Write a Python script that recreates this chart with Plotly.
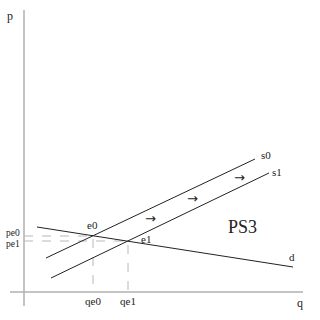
import plotly.graph_objects as go

# Curves in (q, p) coordinates
s0_q = [22, 231]
s0_p = [34, 133]
s1_q = [27, 245]
s1_p = [14, 119]
d_q = [13, 269]
d_p = [65, 25]

# Equilibria
eq_names = ["e0", "e1"]
eq_q = [69, 104]
eq_p = [56, 51]

# Axis extents
yaxis_q = [0, 0]
yaxis_p = [282, -14]
xaxis_q = [-14, 279]
xaxis_p = [0, 0]

# Labels
curve_labels = ["s0", "s1", "d"]
curve_label_q = [242, 253, 268]
curve_label_p = [137, 120, 35]
eq_label_q = [68, 122]
eq_label_p = [67, 53]
price_labels = ["pe0", "pe1"]
price_label_p = [59, 48]
qty_labels = ["qe0", "qe1"]
arrow_q = [126, 168, 215]
arrow_p = [74, 94, 115]

FONT = "Liberation Serif"

fig = go.Figure()

# Axes
for xs, ys in [(yaxis_q, yaxis_p), (xaxis_q, xaxis_p)]:
    fig.add_trace(go.Scatter(x=xs, y=ys, mode="lines",
                             line=dict(color="#b0b0b0", width=1.5),
                             hoverinfo="skip", showlegend=False))

# Dashed guides
for q, p in zip(eq_q, eq_p):
    fig.add_trace(go.Scatter(x=[0, q, q], y=[p, p, 0], mode="lines",
                             line=dict(color="#b8b8b8", width=1, dash="dash"),
                             hoverinfo="skip", showlegend=False))

# Curves
for xs, ys in [(s0_q, s0_p), (s1_q, s1_p), (d_q, d_p)]:
    fig.add_trace(go.Scatter(x=xs, y=ys, mode="lines",
                             line=dict(color="#222222", width=1),
                             hoverinfo="skip", showlegend=False))

def label(x, y, t, size=11):
    fig.add_annotation(x=x, y=y, text=t, showarrow=False, borderpad=0,
                       font=dict(family=FONT, size=size, color="#222222"))

label(-14, 276, "p", 12)
label(276, -11, "q", 12)
for t, x, y in zip(curve_labels, curve_label_q, curve_label_p):
    label(x, y, t)
for t, x, y in zip(eq_names, eq_label_q, eq_label_p):
    label(x, y, t)
for t, p in zip(price_labels, price_label_p):
    label(-11, p, t, 9.5)
for t, q in zip(qty_labels, eq_q):
    label(q, -9, t)
for x, y in zip(arrow_q, arrow_p):
    fig.add_annotation(x=x, y=y, text="→", showarrow=False, borderpad=0,
                       font=dict(family="DejaVu Sans", size=13, color="#222222"))
label(218, 65, "PS3", 18)

fig.update_layout(
    width=320, height=320,
    margin=dict(l=0, r=0, t=0, b=0),
    paper_bgcolor="white", plot_bgcolor="white",
    xaxis=dict(range=[-24, 296], visible=False, fixedrange=True),
    yaxis=dict(range=[-28, 292], visible=False, fixedrange=True),
    showlegend=False,
)

fig.write_html("out.html")
